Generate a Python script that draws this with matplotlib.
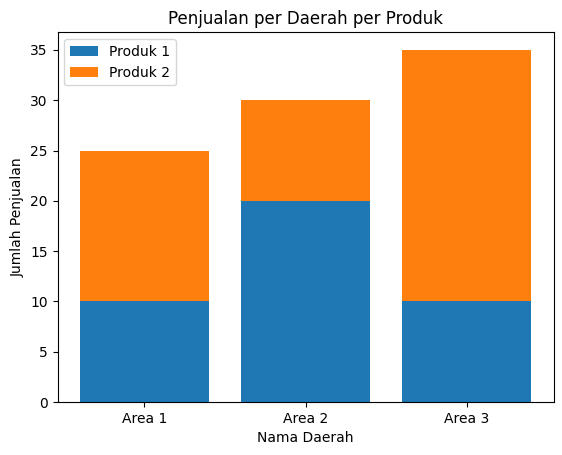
import matplotlib
matplotlib.use("Agg")
import matplotlib.pyplot as plt

areas = ["Area 1", "Area 2", "Area 3"]
produk1 = [10, 20, 10]
produk2 = [15, 10, 25]

fig = plt.figure(figsize=(5.62, 4.55), dpi=100)
ax = fig.add_axes([57.5 / 562, 53 / 455, 496 / 562, 369.6 / 455])
ax.bar(areas, produk1, label="Produk 1")
ax.bar(areas, produk2, bottom=produk1, label="Produk 2")
ax.set_title("Penjualan per Daerah per Produk")
ax.set_xlabel("Nama Daerah")
ax.set_ylabel("Jumlah Penjualan")
ax.legend(loc="upper left")
fig.savefig("out.png", dpi=100)
